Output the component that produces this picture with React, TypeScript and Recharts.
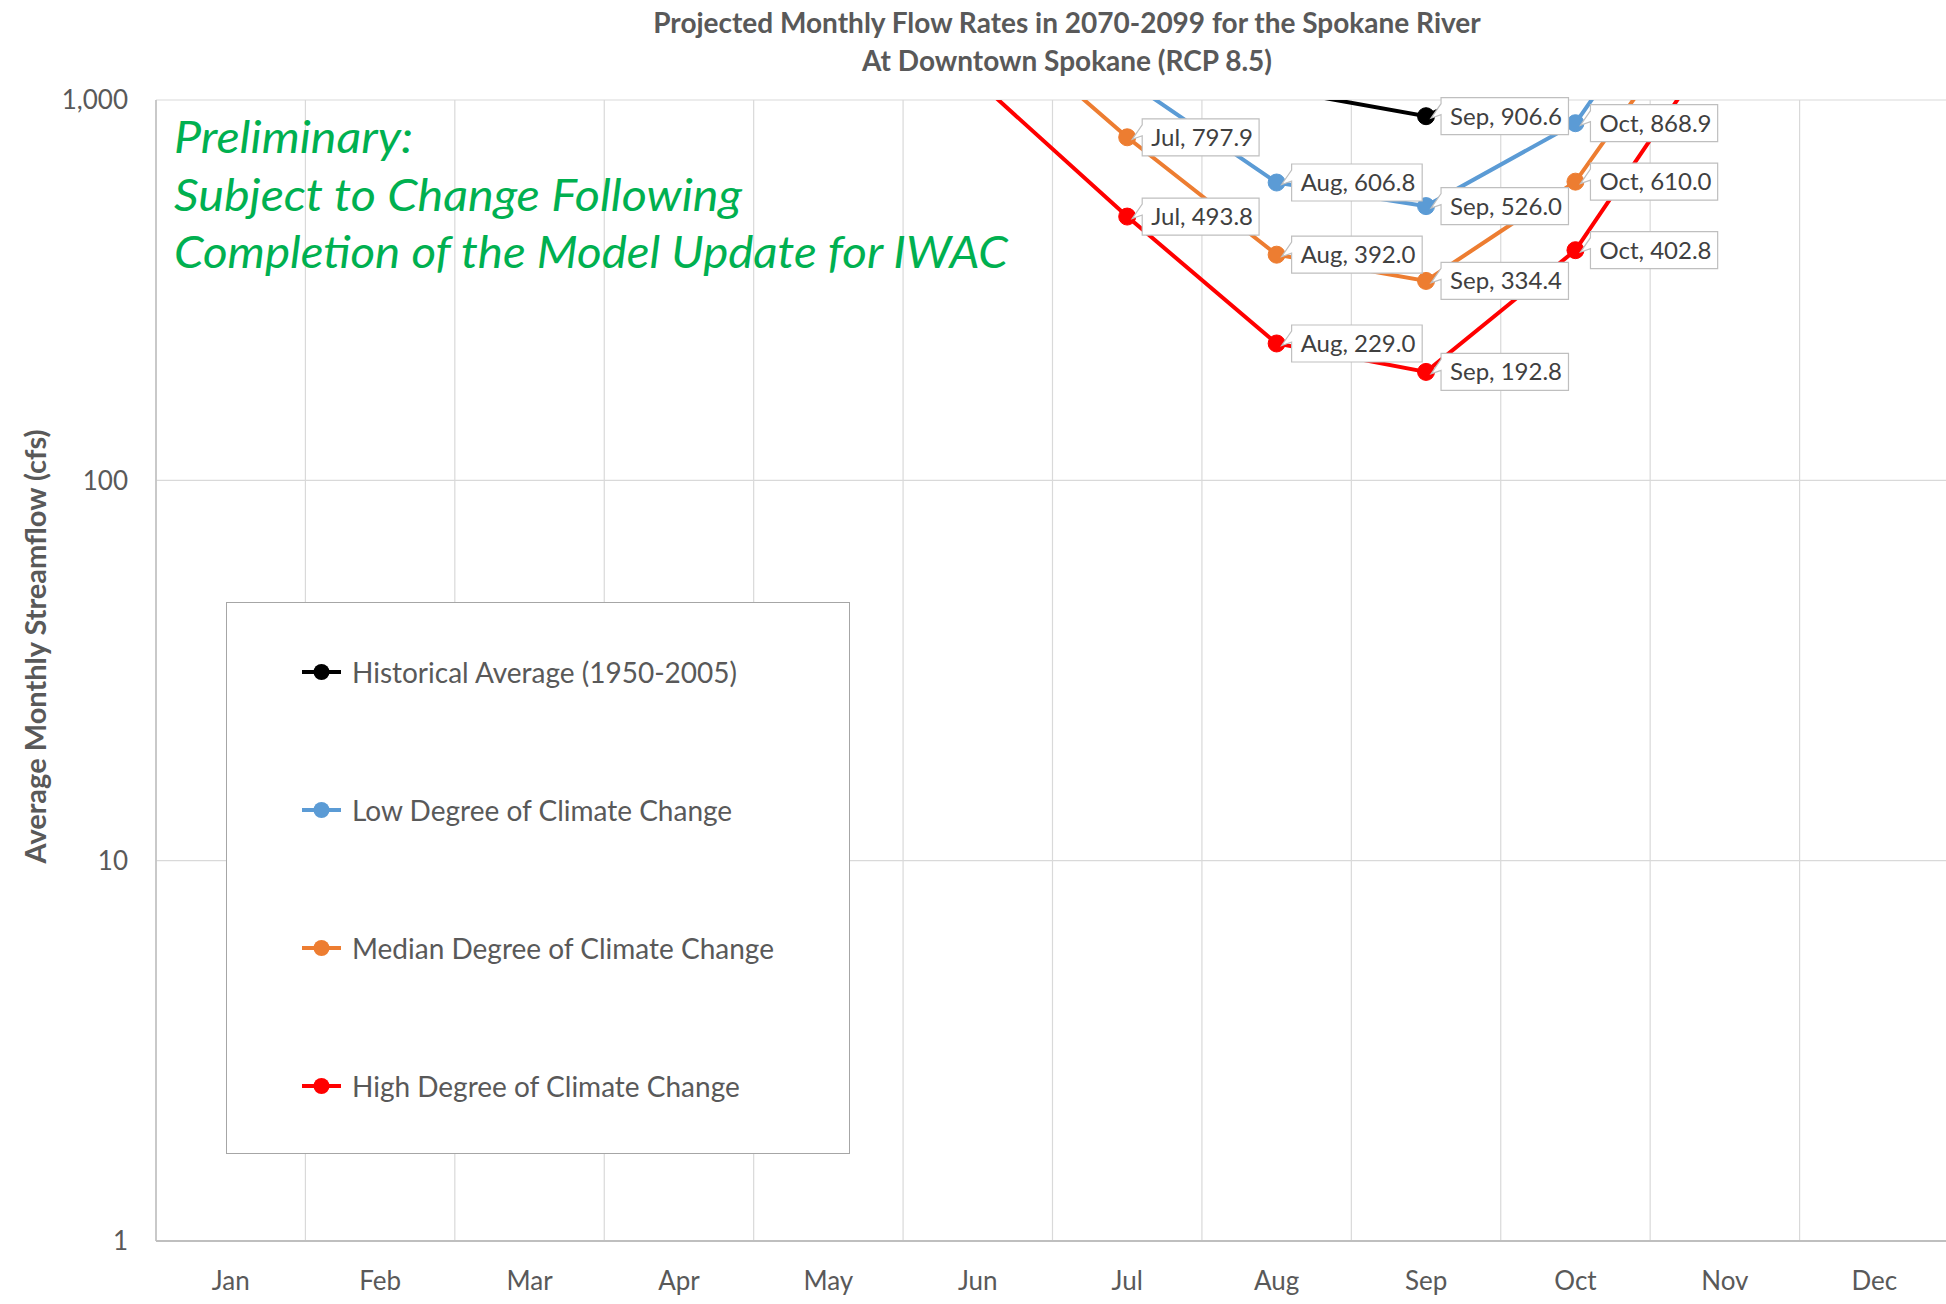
import React from "react";
import {
  LineChart,
  Line,
  XAxis,
  YAxis,
  CartesianGrid,
  Legend,
  LabelList,
  Label,
} from "recharts";

const MONTHS = ["Jan", "Feb", "Mar", "Apr", "May", "Jun", "Jul", "Aug", "Sep", "Oct", "Nov", "Dec"];

// cfs; values above 1,000 run off the top of the chart
const HISTORICAL = [7800, 9300, 14200, 21500, 24800, 15300, 4100, 1066, 906.6, 1400, 3600, 6900];
const LOW = [8400, 9800, 14800, 20500, 16500, 3200, 1126, 606.8, 526.0, 868.9, 3200, 6900];
const MEDIAN = [9200, 10800, 16800, 19800, 10200, 1750, 797.9, 392.0, 334.4, 610.0, 2190, 7400];
const HIGH = [10400, 12600, 19200, 17600, 6200, 1120, 493.8, 229.0, 192.8, 402.8, 1530, 8300];

const Y_TICKS = [1, 10, 100, 1000];
const Y_MAX = 1000;

const SERIES = [
  { key: "historical", name: "Historical Average (1950-2005)", color: "#000000", values: HISTORICAL },
  { key: "low", name: "Low Degree of Climate Change", color: "#5B9BD5", values: LOW },
  { key: "median", name: "Median Degree of Climate Change", color: "#ED7D31", values: MEDIAN },
  { key: "high", name: "High Degree of Climate Change", color: "#FF0000", values: HIGH },
];

const data = MONTHS.map((month, i) => ({
  month,
  historical: HISTORICAL[i],
  low: LOW[i],
  median: MEDIAN[i],
  high: HIGH[i],
}));

const FONT = "Lato, 'Open Sans', sans-serif";
const TEXT_GREY = "#595959";

// rough Lato advance widths (em) for sizing the label boxes
const CHAR_W: Record<string, number> = {
  ",": 0.22, ".": 0.22, " ": 0.19, J: 0.37, u: 0.56, l: 0.24, A: 0.67, g: 0.51,
  S: 0.52, e: 0.53, p: 0.56, O: 0.78, c: 0.47, t: 0.35,
};
const textWidth = (s: string, size: number) =>
  s.split("").reduce((w, ch) => w + (/[0-9]/.test(ch) ? 0.58 : CHAR_W[ch] ?? 0.55), 0) * size;

const makeDot = (color: string, dataKey: string) => (props: any) => {
  const { cx, cy, payload, index } = props;
  const v = payload?.[dataKey];
  if (v == null || v > Y_MAX || cx == null || cy == null) return <g key={`d-${index}`} />;
  return <circle key={`d-${index}`} cx={cx} cy={cy} r={8.5} fill={color} stroke={color} strokeWidth={1} />;
};

const makeLabel = (values: number[]) => (props: any) => {
  const x = props.x ?? props.viewBox?.x;
  const y = props.y ?? props.viewBox?.y;
  const value = Number(props.value);
  if (x == null || y == null || !(value <= Y_MAX)) return null;
  const idx = props.index ?? values.indexOf(value);
  const text = `${MONTHS[idx]}, ${value.toFixed(1)}`;
  const size = 24;
  const w = textWidth(text, size) + 18;
  const h = 37;
  const L = x + 15;
  const T = y - h / 2;
  const d = `M${L},${T} H${L + w} V${T + h} H${L} V${T + 17} L${x + 5},${y + 2} L${L},${T + 6} Z`;
  return (
    <g>
      <path d={d} fill="#ffffff" stroke="#bfbfbf" strokeWidth={1.2} />
      <text x={L + 9} y={y} dy="0.35em" fontSize={size} fontFamily={FONT} fill="#404040">
        {text}
      </text>
    </g>
  );
};

const YTitle = (props: any) => {
  const vb = props.viewBox || { x: 0, y: 100, width: 156, height: 1141 };
  const cx = vb.x + 34;
  const cy = vb.y + vb.height / 2 - 24;
  return (
    <text
      x={cx}
      y={cy}
      transform={`rotate(-90, ${cx}, ${cy})`}
      textAnchor="middle"
      dominantBaseline="central"
      fontSize={29}
      fontWeight="bold"
      fontFamily={FONT}
      fill={TEXT_GREY}
    >
      Average Monthly Streamflow (cfs)
    </text>
  );
};

const seriesOrder = (name: string) => SERIES.findIndex((s) => s.name === name);

const LegendBox = (props: any) => {
  const items = (props.payload || [])
    .filter((p: any) => p.type !== "none" && seriesOrder(p.value) >= 0)
    .sort((a: any, b: any) => seriesOrder(a.value) - seriesOrder(b.value));
  return (
    <div
      style={{
        width: "100%",
        height: "100%",
        boxSizing: "border-box",
        border: "1.5px solid #a6a6a6",
        background: "#ffffff",
      }}
    >
      {items.map((p: any) => (
        <div key={p.value} style={{ height: 138, display: "flex", alignItems: "center" }}>
          <svg width={125} height={30} style={{ flex: "none" }}>
            <line x1={75} x2={114} y1={15} y2={15} stroke={p.color} strokeWidth={4} />
            <circle cx={94.5} cy={15} r={8} fill={p.color} />
          </svg>
          <span style={{ fontSize: 28, fontFamily: FONT, color: TEXT_GREY, whiteSpace: "nowrap" }}>
            {p.value}
          </span>
        </div>
      ))}
    </div>
  );
};

export default function App() {
  return (
    <div
      style={{
        position: "absolute",
        left: 0,
        top: 0,
        width: 1946,
        height: 1304,
        overflow: "hidden",
        background: "#ffffff",
        fontFamily: FONT,
      }}
    >
      <div
        style={{
          position: "absolute",
          left: 367,
          top: 3,
          width: 1400,
          textAlign: "center",
          fontSize: 28,
          fontWeight: "bold",
          lineHeight: "38px",
          color: TEXT_GREY,
          zIndex: 2,
        }}
      >
        Projected Monthly Flow Rates in 2070-2099 for the Spokane River
        <br />
        At Downtown Spokane (RCP 8.5)
      </div>

      <LineChart width={1952} height={1304} data={data} margin={{ top: 100, right: 3, bottom: 0, left: 0 }}>
        <CartesianGrid
          stroke="#d9d9d9"
          strokeWidth={1.2}
          verticalCoordinatesGenerator={({ offset }: any) =>
            Array.from({ length: MONTHS.length + 1 }, (_, i) => offset.left + (i * offset.width) / MONTHS.length)
          }
        />
        <XAxis
          dataKey="month"
          scale="band"
          interval={0}
          height={63}
          tickLine={false}
          tickSize={0}
          tickMargin={31}
          axisLine={{ stroke: "#bfbfbf", strokeWidth: 2 }}
          tick={{ fill: TEXT_GREY, fontSize: 26, fontFamily: FONT }}
        />
        <YAxis
          scale="log"
          domain={[1, Y_MAX]}
          allowDataOverflow
          ticks={Y_TICKS}
          width={156}
          tickLine={false}
          tickSize={0}
          tickMargin={28}
          axisLine={{ stroke: "#bfbfbf", strokeWidth: 1.5 }}
          tick={{ fill: TEXT_GREY, fontSize: 26, fontFamily: FONT }}
          tickFormatter={(v: number) => v.toLocaleString("en-US")}
        >
          <Label content={<YTitle />} />
        </YAxis>
        <Legend
          layout="vertical"
          align="center"
          verticalAlign="middle"
          itemSorter={null as any}
          wrapperStyle={{ left: 226, top: 602, width: 624, height: 552 }}
          content={<LegendBox />}
        />
        {SERIES.map((s) => (
          <Line
            key={s.key}
            type="linear"
            dataKey={s.key}
            name={s.name}
            stroke={s.color}
            strokeWidth={4}
            dot={makeDot(s.color, s.key)}
            activeDot={false}
            isAnimationActive={false}
          />
        ))}
        {/* data labels drawn last so every box sits above all the lines */}
        {SERIES.map((s) => (
          <Line
            key={`${s.key}-labels`}
            type="linear"
            dataKey={s.key}
            stroke="none"
            dot={false}
            activeDot={false}
            legendType="none"
            isAnimationActive={false}
          >
            <LabelList dataKey={s.key} content={makeLabel(s.values)} />
          </Line>
        ))}
      </LineChart>

      <svg
        width={1946}
        height={1304}
        style={{ position: "absolute", left: 0, top: 0, pointerEvents: "none" }}
      >
        <g fill="#00B050" fontFamily={FONT} fontStyle="italic" fontSize={44}>
          <text x={174} y={153} textLength={239} lengthAdjust="spacingAndGlyphs">
            Preliminary:
          </text>
          <text x={174} y={210.5} textLength={568} lengthAdjust="spacingAndGlyphs">
            Subject to Change Following
          </text>
          <text x={174} y={268} textLength={834} lengthAdjust="spacingAndGlyphs">
            Completion of the Model Update for IWAC
          </text>
        </g>
      </svg>
    </div>
  );
}
